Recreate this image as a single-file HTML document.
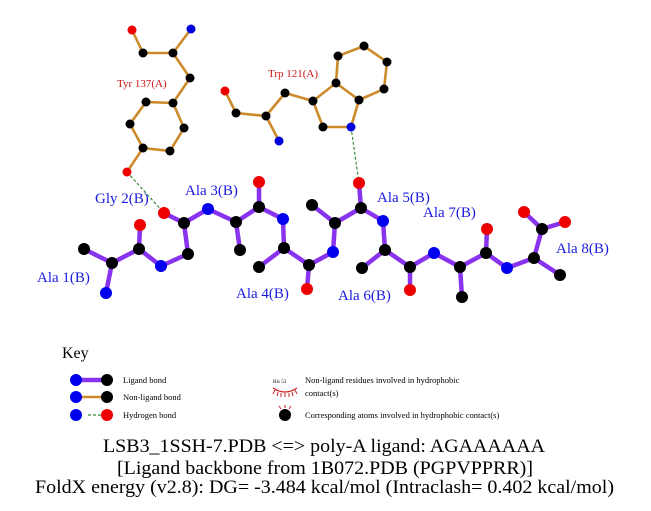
<!DOCTYPE html>
<html><head><meta charset="utf-8"><style>
html,body{margin:0;padding:0;background:#fff;}
svg{display:block;font-family:"Liberation Serif",serif;}
</style></head><body>
<svg width="651" height="511" viewBox="0 0 651 511" xmlns="http://www.w3.org/2000/svg">
<g stroke="#cc8a2a" stroke-width="2.6" fill="none" stroke-linecap="round">
<polyline points="132,30 143,53 173,53 191,29"/>
<polyline points="173,53 190,78 173,103 184,128 170,151 143,148 130,124 146,102 173,103"/>
<line x1="143" y1="148" x2="127" y2="172"/>
<polyline points="225,91 236,113 266,116 279,141"/>
<polyline points="266,116 285,93 313,101 323,127 351,127 359,100 336,83 313,101"/>
<polyline points="336,83 338,56 364,46 387,62 384,89 359,100"/>
</g>
<g stroke="#3a8a3a" stroke-width="1.2" stroke-dasharray="3,2">
<line x1="127" y1="172" x2="164" y2="213"/>
<line x1="351" y1="127" x2="359" y2="183"/>
<line x1="88" y1="415" x2="107" y2="415"/>
</g>
<g stroke="#8833ee" stroke-width="4.5" fill="none" stroke-linecap="round" stroke-linejoin="round">
<polyline points="84,249 112,263 106,293"/>
<polyline points="112,263 139,249 140,225"/>
<polyline points="139,249 161,266 188,254 184,223 164,213"/>
<polyline points="184,223 208,209 236,222 240,250"/>
<polyline points="236,222 259,207 259,182"/>
<polyline points="259,207 283,219 284,248 259,267"/>
<polyline points="284,248 309,265 307,289"/>
<polyline points="309,265 333,252 335,223 312,205"/>
<polyline points="335,223 361,208 359,183"/>
<polyline points="361,208 383,221 385,250 362,268"/>
<polyline points="385,250 410,267 410,290"/>
<polyline points="410,267 434,253 460,267 462,297"/>
<polyline points="460,267 486,253 487,229"/>
<polyline points="486,253 507,268 534,258 560,275"/>
<polyline points="534,258 542,229 524,212"/>
<line x1="542" y1="229" x2="565" y2="222"/>
<line x1="76" y1="380" x2="107" y2="380"/>
</g>
<line x1="76" y1="397" x2="107" y2="397" stroke="#cc8a2a" stroke-width="2.6"/>
<g>
<g fill="#000"><circle cx="143" cy="53" r="4.5"/><circle cx="173" cy="53" r="4.5"/><circle cx="190" cy="78" r="4.5"/><circle cx="173" cy="103" r="4.5"/><circle cx="146" cy="102" r="4.5"/><circle cx="130" cy="124" r="4.5"/><circle cx="143" cy="148" r="4.5"/><circle cx="170" cy="151" r="4.5"/><circle cx="184" cy="128" r="4.5"/>
<circle cx="236" cy="113" r="4.5"/><circle cx="266" cy="116" r="4.5"/><circle cx="285" cy="93" r="4.5"/><circle cx="313" cy="101" r="4.5"/><circle cx="323" cy="127" r="4.5"/><circle cx="359" cy="100" r="4.5"/><circle cx="336" cy="83" r="4.5"/><circle cx="338" cy="56" r="4.5"/><circle cx="364" cy="46" r="4.5"/><circle cx="387" cy="62" r="4.5"/><circle cx="384" cy="89" r="4.5"/></g>
<g fill="#e00"><circle cx="132" cy="30" r="4.5"/><circle cx="127" cy="172" r="4.5"/><circle cx="225" cy="91" r="4.5"/></g>
<g fill="#00d"><circle cx="191" cy="29" r="4.5"/><circle cx="279" cy="141" r="4.5"/><circle cx="351" cy="127" r="4.5"/></g>
</g>
<g fill="#000">
<circle cx="84" cy="249" r="6"/><circle cx="112" cy="263" r="6"/><circle cx="139" cy="249" r="6"/><circle cx="188" cy="254" r="6"/><circle cx="184" cy="223" r="6"/><circle cx="236" cy="222" r="6"/><circle cx="240" cy="250" r="6"/><circle cx="259" cy="207" r="6"/><circle cx="284" cy="248" r="6"/><circle cx="259" cy="267" r="6"/><circle cx="309" cy="265" r="6"/><circle cx="335" cy="223" r="6"/><circle cx="312" cy="205" r="6"/><circle cx="361" cy="208" r="6"/><circle cx="385" cy="250" r="6"/><circle cx="362" cy="268" r="6"/><circle cx="410" cy="267" r="6"/><circle cx="460" cy="267" r="6"/><circle cx="462" cy="297" r="6"/><circle cx="486" cy="253" r="6"/><circle cx="534" cy="258" r="6"/><circle cx="560" cy="275" r="6"/><circle cx="542" cy="229" r="6"/>
<circle cx="107" cy="380" r="6"/><circle cx="107" cy="397" r="6"/><circle cx="285" cy="415" r="6"/>
</g>
<g fill="#e00">
<circle cx="140" cy="225" r="6"/><circle cx="164" cy="213" r="6"/><circle cx="259" cy="182" r="6"/><circle cx="307" cy="289" r="6"/><circle cx="359" cy="183" r="6"/><circle cx="410" cy="290" r="6"/><circle cx="487" cy="229" r="6"/><circle cx="524" cy="212" r="6"/><circle cx="565" cy="222" r="6"/><circle cx="107" cy="415" r="6"/>
</g>
<g fill="#00e">
<circle cx="106" cy="293" r="6"/><circle cx="161" cy="266" r="6"/><circle cx="208" cy="209" r="6"/><circle cx="283" cy="219" r="6"/><circle cx="333" cy="252" r="6"/><circle cx="383" cy="221" r="6"/><circle cx="434" cy="253" r="6"/><circle cx="507" cy="268" r="6"/>
<circle cx="76" cy="380" r="6"/><circle cx="76" cy="397" r="6"/><circle cx="76" cy="415" r="6"/>
</g>
<g fill="#1a1ae0" font-size="15">
<text x="37" y="282">Ala 1(B)</text>
<text x="95" y="203">Gly 2(B)</text>
<text x="185" y="195">Ala 3(B)</text>
<text x="236" y="298">Ala 4(B)</text>
<text x="377" y="202">Ala 5(B)</text>
<text x="338" y="300">Ala 6(B)</text>
<text x="423" y="217">Ala 7(B)</text>
<text x="556" y="253">Ala 8(B)</text>
</g>
<g fill="#cc1111" font-size="11">
<text x="117" y="87">Tyr 137(A)</text>
<text x="268" y="77">Trp 121(A)</text>
</g>
<text x="62" y="358" font-size="16" fill="#000">Key</text>
<g font-size="8.5" fill="#000">
<text x="123" y="383">Ligand bond</text>
<text x="123" y="400">Non-ligand bond</text>
<text x="123" y="418">Hydrogen bond</text>
<text x="305" y="383">Non-ligand residues involved in hydrophobic</text>
<text x="305" y="396">contact(s)</text>
<text x="305" y="418">Corresponding atoms involved in hydrophobic contact(s)</text>
<text x="273" y="383" font-size="5">His 53</text>
</g>
<path d="M273,388 Q285,396 297,388" fill="none" stroke="#cc2222" stroke-width="1.2"/>
<g stroke="#cc2222" stroke-width="1">
<line x1="275" y1="390" x2="273" y2="394"/><line x1="278" y1="392" x2="277" y2="396"/><line x1="281" y1="393" x2="281" y2="397"/><line x1="285" y1="393" x2="285" y2="397"/><line x1="289" y1="393" x2="289" y2="397"/><line x1="292" y1="392" x2="293" y2="396"/><line x1="295" y1="390" x2="297" y2="394"/>
<line x1="285" y1="408" x2="285" y2="405"/><line x1="281" y1="409" x2="279" y2="406"/><line x1="289" y1="409" x2="291" y2="406"/>
</g>
<g font-size="19" fill="#000">
<text x="103" y="452" textLength="442" lengthAdjust="spacingAndGlyphs">LSB3_1SSH-7.PDB &lt;=&gt; poly-A ligand: AGAAAAAA</text>
<text x="117" y="474" textLength="416" lengthAdjust="spacingAndGlyphs">[Ligand backbone from 1B072.PDB (PGPVPPRR)]</text>
<text x="35" y="493" textLength="579" lengthAdjust="spacingAndGlyphs">FoldX energy (v2.8): DG= -3.484 kcal/mol (Intraclash= 0.402 kcal/mol)</text>
</g>
</svg>
</body></html>
